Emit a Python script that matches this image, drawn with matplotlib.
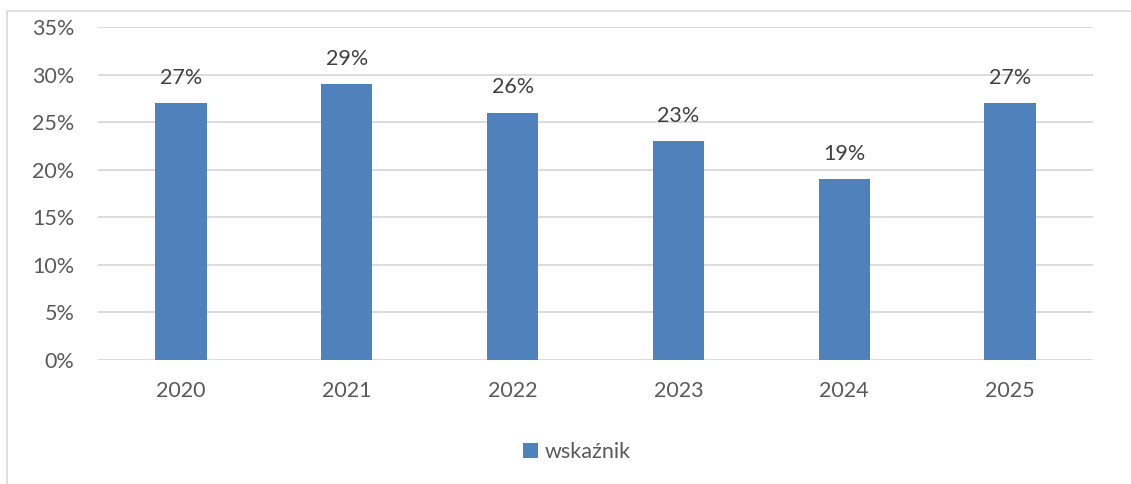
import matplotlib.pyplot as plt
from matplotlib.patches import Rectangle

years = ['2020', '2021', '2022', '2023', '2024', '2025']
values = [27, 29, 26, 23, 19, 27]
series_name = 'wskaźnik'
yticks = [0, 5, 10, 15, 20, 25, 30, 35]

plt.rcParams['font.family'] = ['Lato', 'DejaVu Sans']

fig = plt.figure(figsize=(11.31, 4.84), dpi=100)
ax = fig.add_axes([98 / 1131, 1 - 360 / 484, 995 / 1131, 333 / 484])

# outer chart border (partly cut off on right/bottom)
fig.patches.append(Rectangle((7 / 1131, -0.1), 1.2, 1 - 11 / 484 + 0.1,
                             transform=fig.transFigure, fill=False,
                             edgecolor='#d9d9d9', linewidth=1.2))

x = range(len(years))
bars = ax.bar(x, values, width=0.31, color='#4f81bd', label=series_name, zorder=3)
for xi, v in zip(x, values):
    ax.text(xi, v + 1.6, f'{v}%', ha='center', va='bottom', fontsize=15.5, color='#404040')

ax.set_xlim(-0.5, len(years) - 0.5)
ax.set_ylim(0, 35)
ax.set_yticks(yticks)
ax.set_yticklabels([f'{t}%' for t in yticks])
ax.set_xticks(list(x))
ax.set_xticklabels(years)
ax.tick_params(axis='both', length=0, labelsize=15.5, labelcolor='#595959')
ax.tick_params(axis='y', pad=17)
ax.tick_params(axis='x', pad=15)
ax.grid(axis='y', color='#d9d9d9', linewidth=1.3, zorder=0)
for s in ax.spines.values():
    s.set_visible(False)

fig.legend(handles=[bars], labels=[series_name], loc='center', bbox_to_anchor=(577 / 1131, 1 - 452 / 484),
           frameon=False, fontsize=15.5, labelcolor='#595959', handlelength=0.7, handleheight=0.7,
           handletextpad=0.3)

fig.savefig('out.png', dpi=100)
